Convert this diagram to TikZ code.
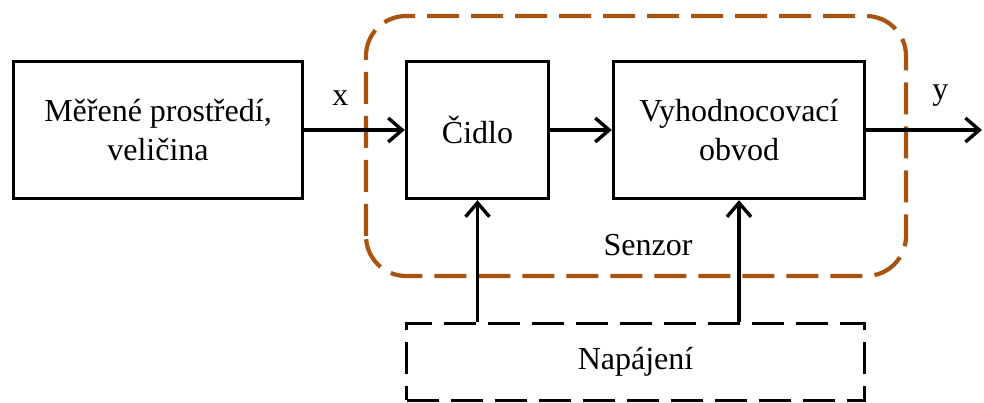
\documentclass[tikz,border=0pt]{standalone}
\usepackage{fontspec}
\setmainfont{Liberation Serif}
\usetikzlibrary{arrows.meta}
\usetikzlibrary{positioning}
\definecolor{senzorbrown}{RGB}{168,84,16}

\begin{document}
\begin{tikzpicture}[x=1pt, y=1pt,
   blok/.style={draw, line width=3.4pt, minimum height=137pt, align=center, font=\fontsize{32}{39}\selectfont},
   sipka/.style={-{Straight Barb[length=14pt,width=24pt]}, line width=3.4pt},
   popis/.style={font=\fontsize{32}{39}\selectfont}]

 \useasboundingbox (0,0) rectangle (984,403);

 %senzor frame
 \draw[senzorbrown, line width=4.2pt, dash pattern=on 32pt off 12pt, rounded corners=40pt] (366,127) rectangle (906,387);
 \node[popis] (senzor) at (648,158) {Senzor};

 %blocks
 \def\dy{273}
 \node[blok, minimum width=289pt] (prostredi) at (158,\dy) {Měřené prostředí,\\veličina};
 \node[blok, minimum width=142pt] (cidlo) at (477.5,\dy) {Čidlo};
 \node[blok, minimum width=251pt] (obvod) at (739,\dy) {Vyhodnocovací\\obvod};
 \node[blok, minimum width=458pt, minimum height=77pt, dash pattern=on 32pt off 12pt] (napajeni) at (635.5,41) {Napájení};
 \coordinate (vystup) at (982,\dy);

 %arrows
 \draw[sipka] (prostredi) -- node[popis, pos=0.36, above=19pt]{x} (cidlo);
 \draw[sipka] (cidlo) -- (obvod);
 \draw[sipka] (obvod) -- node[popis, pos=0.64, above=19pt]{y} (vystup);

 %power
 \foreach \blk in {cidlo, obvod} {
     \draw[sipka] (napajeni.north -| \blk.south) -- (\blk.south);
 }

\end{tikzpicture}
\end{document}
